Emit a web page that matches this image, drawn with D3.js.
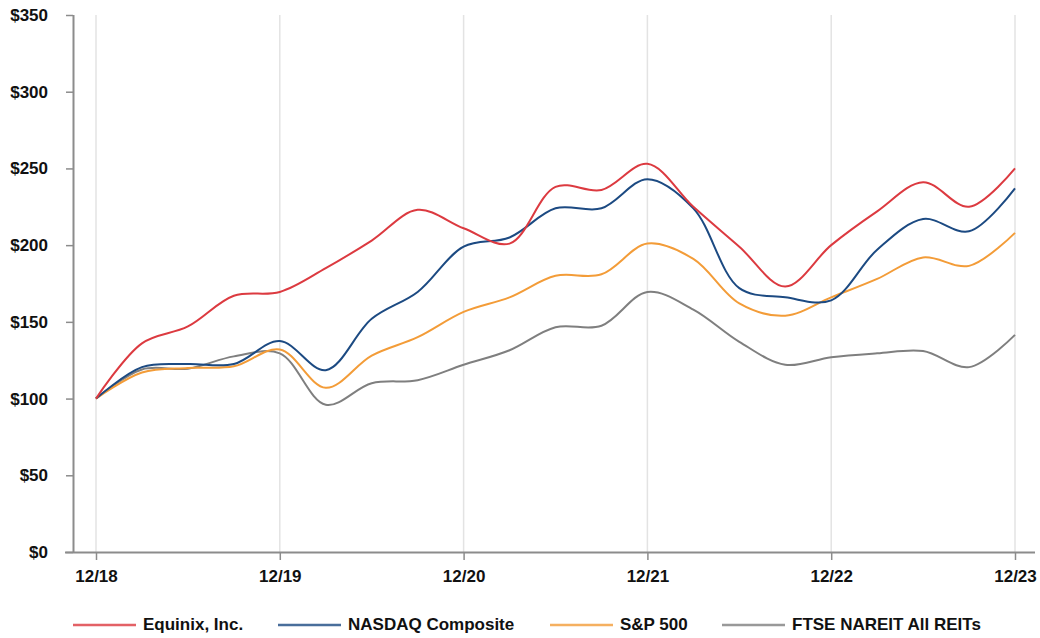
<!DOCTYPE html>
<html>
<head>
<meta charset="utf-8">
<script src="https://cdn.jsdelivr.net/npm/d3@7"></script>
<style>
  body { margin: 0; background: #fff; }
  text { font-family: "Liberation Sans", Arial, sans-serif; font-weight: bold; fill: #111; }
</style>
</head>
<body>
<svg width="1040" height="638"></svg>
<script>
// **** Data ****
var quarters = d3.range(21); // 12/18 .. 12/23, quarterly
var yearLabels = ['12/18', '12/19', '12/20', '12/21', '12/22', '12/23'];
var yTicks = [0, 50, 100, 150, 200, 250, 300, 350];

var equinix = [100, 136, 147, 167, 169.5, 185, 203, 223, 211, 201, 238, 236, 253, 225, 199, 173, 200, 222, 241, 225, 250];
var nasdaq  = [100, 120.5, 122.5, 122.5, 137.5, 118.5, 152, 169.5, 199, 205, 224, 224, 243, 224, 172, 166, 164, 197, 217, 209, 237];
var sp500   = [100, 117, 120, 121, 132, 107, 128, 140, 156.5, 166, 180, 181, 201, 191, 162, 154, 166, 178, 192, 186.5, 208];
var ftse    = [100, 119, 119.5, 127.5, 129.5, 96, 110, 112, 122, 131.5, 146.5, 147.5, 169.5, 158, 137, 122, 127, 129.5, 131, 120.5, 141.5];

var seriesNames = ['Equinix, Inc.', 'NASDAQ Composite', 'S&P 500', 'FTSE NAREIT All REITs'];
var seriesColors = ['#dc3a40', '#1c4a82', '#f39c38', '#7f7f7f'];

// **** Scales and axes ****
var xScale = d3.scaleLinear().domain([0, 20]).range([96, 1015]);
var yScale = d3.scaleLinear().domain([0, 350]).range([552, 15]);

var svg = d3.select('svg');

// vertical grid lines at each year
svg.append('g').attr('class', 'grid')
    .selectAll('line')
    .data(yearLabels)
    .enter()
    .append('line')
    .attr('x1', (d, i) => xScale(i * 4))
    .attr('x2', (d, i) => xScale(i * 4))
    .attr('y1', yScale(350))
    .attr('y2', yScale(0))
    .attr('stroke', '#e3e3e3')
    .attr('stroke-width', 1.5);

var yAxis = svg.append('g').attr('class', 'y axis')
    .attr('transform', 'translate(73,0)')
    .call(d3.axisLeft(yScale).tickValues(yTicks).tickSize(7).tickPadding(18)
        .tickFormat(d => '$' + d));

var xAxis = svg.append('g').attr('class', 'x axis')
    .attr('transform', 'translate(0,552)')
    .call(d3.axisBottom(xScale).tickValues([0, 4, 8, 12, 16, 20]).tickSize(8).tickPadding(10)
        .tickFormat((d, i) => yearLabels[i]));

// stretch the x axis line a bit past the plot like the original
xAxis.select('.domain').attr('d', 'M65,0.5H1035');
yAxis.select('.domain').attr('d', 'M0.5,15V552');

svg.selectAll('.axis .domain').attr('stroke', '#8c8c8c').attr('stroke-width', 2);
svg.selectAll('.axis .tick line').attr('stroke', '#8c8c8c').attr('stroke-width', 1.5);
svg.selectAll('.axis text')
    .style('font-family', '"Liberation Sans", Arial, sans-serif')
    .style('font-weight', 'bold')
    .style('font-size', '17px')
    .attr('fill', '#111');

// **** Lines ****
var allSeries = [equinix, nasdaq, sp500, ftse];
var line = d3.line()
    .x((d, i) => xScale(quarters[i]))
    .y(d => yScale(d))
    .curve(d3.curveCatmullRom.alpha(0.5));

// draw grey first so red sits on top
[3, 2, 1, 0].forEach(function(k) {
    svg.append('path')
        .datum(allSeries[k])
        .attr('fill', 'none')
        .attr('stroke', seriesColors[k])
        .attr('stroke-width', 2)
        .attr('d', line);
});

// **** Legend ****
var legendX = [73, 278, 550, 722];
var legend = svg.append('g').attr('class', 'legend');
seriesNames.forEach(function(name, i) {
    legend.append('line')
        .attr('x1', legendX[i]).attr('x2', legendX[i] + 63)
        .attr('y1', 625).attr('y2', 625)
        .attr('stroke', seriesColors[i])
        .attr('stroke-opacity', 0.8)
        .attr('stroke-width', 2.5);
    legend.append('text')
        .attr('x', legendX[i] + 70)
        .attr('y', 630)
        .style('font-size', '17px')
        .text(name);
});
</script>
</body>
</html>
